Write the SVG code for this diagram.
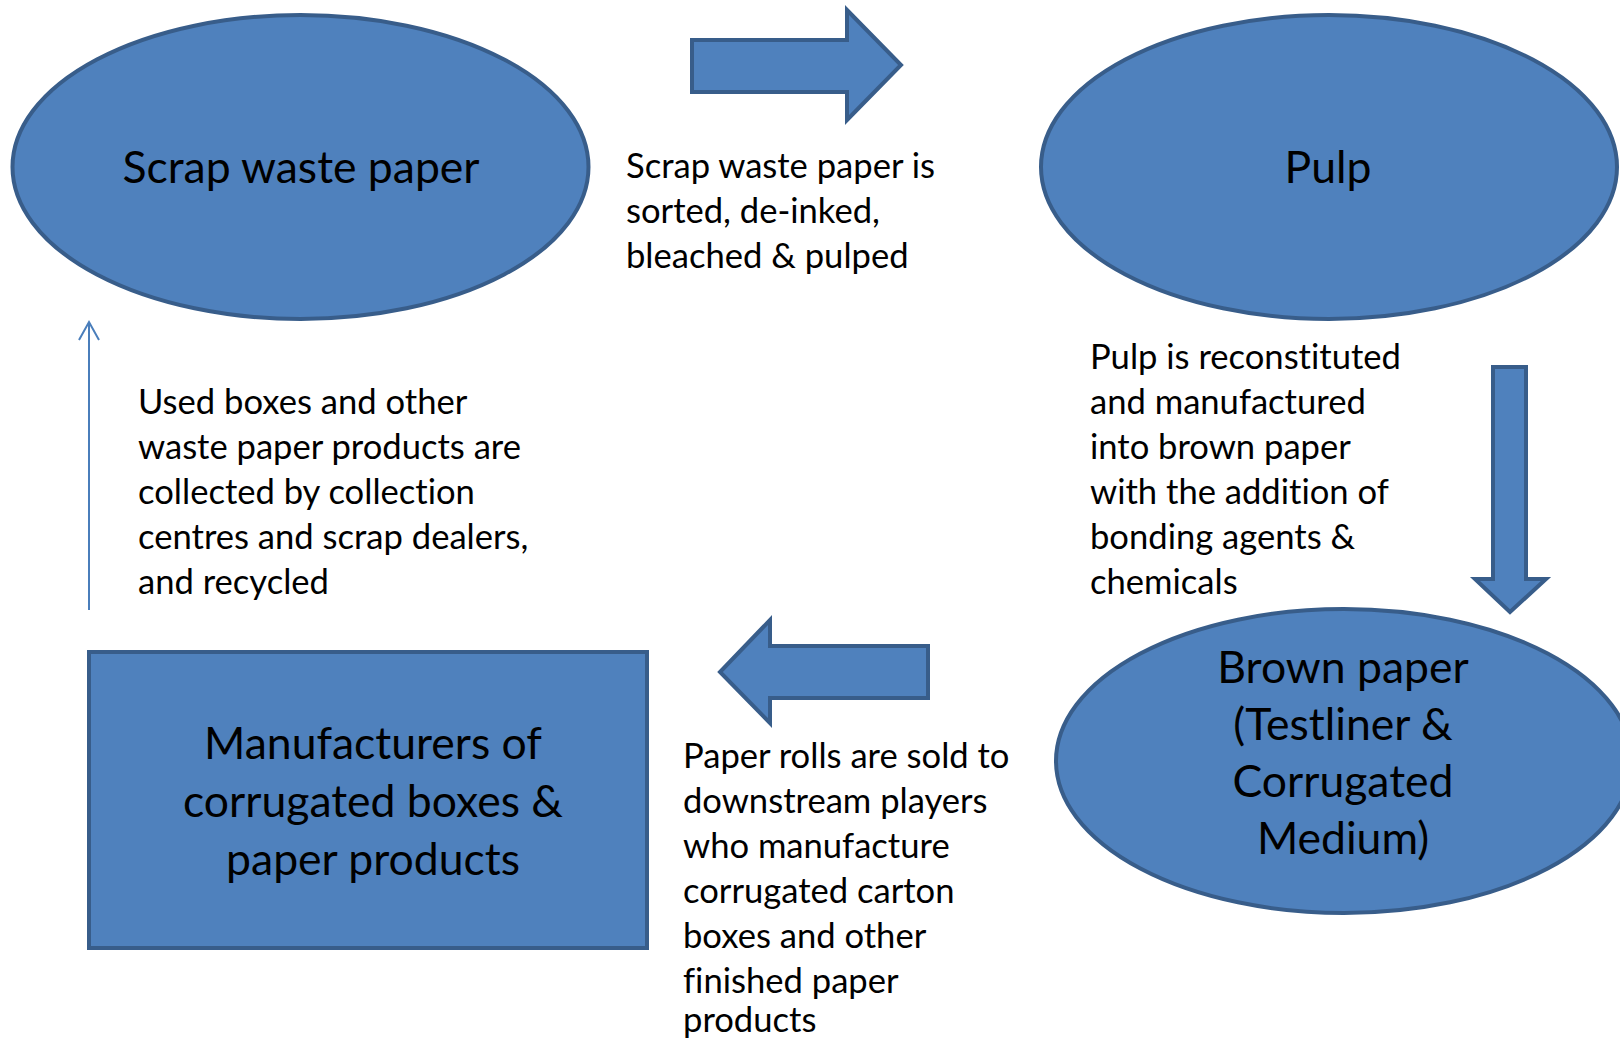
<svg xmlns="http://www.w3.org/2000/svg" width="1620" height="1041" viewBox="0 0 1620 1041">
<style>
.shape{fill:#4F81BD;stroke:#385D8A;stroke-width:4;stroke-linejoin:miter}
.big{font-family:Lato,"Liberation Sans",sans-serif;font-size:44.5px;fill:#000;text-anchor:middle;font-variant-ligatures:none}
.small{font-family:Lato,"Liberation Sans",sans-serif;font-size:34.6px;fill:#000;font-variant-ligatures:none}
.thin{fill:none;stroke:#4A7EBB;stroke-width:2}
</style>
<rect width="1620" height="1041" fill="#fff"/>
<g id="connectors">
<path class="shape" d="M692,40 H847 V10 L901,65 L847,120 V92 H692 Z"/>
<path class="shape" d="M1493,367 H1526 V579 H1546 L1510,612 L1475,579 H1493 Z"/>
<path class="shape" d="M928,646 V698 H770 V723 L720,672 L770,620 V646 Z"/>
<path class="thin" d="M89,610 V322 M79,340 L89,322 L99,340"/>
</g>
<g id="node-scrap">
<ellipse class="shape" cx="300.5" cy="167" rx="288" ry="152"/>
<text class="big" x="301" y="183">Scrap waste paper</text>
</g>
<g id="node-pulp">
<ellipse class="shape" cx="1329" cy="167" rx="288" ry="152"/>
<text class="big" x="1328" y="183">Pulp</text>
</g>
<g id="node-brown">
<ellipse class="shape" cx="1344" cy="761" rx="288" ry="152"/>
<text class="big" x="1343" y="683">Brown paper</text>
<text class="big" x="1343" y="740">(Testliner &amp;</text>
<text class="big" x="1343" y="797">Corrugated</text>
<text class="big" x="1343" y="854">Medium)</text>
</g>
<g id="node-manufacturers">
<rect class="shape" x="89" y="652" width="558" height="296"/>
<text class="big" x="373" y="759">Manufacturers of</text>
<text class="big" x="373" y="817">corrugated boxes &amp;</text>
<text class="big" x="373" y="875">paper products</text>
</g>
<g id="label-sorted">
<text class="small" x="626" y="178">Scrap waste paper is</text>
<text class="small" x="626" y="223">sorted, de-inked,</text>
<text class="small" x="626" y="268">bleached &amp; pulped</text>
</g>
<g id="label-reconstituted">
<text class="small" x="1090" y="369">Pulp is reconstituted</text>
<text class="small" x="1090" y="414">and manufactured</text>
<text class="small" x="1090" y="459">into brown paper</text>
<text class="small" x="1090" y="504">with the addition of</text>
<text class="small" x="1090" y="549">bonding agents &amp;</text>
<text class="small" x="1090" y="594">chemicals</text>
</g>
<g id="label-used">
<text class="small" x="138" y="414">Used boxes and other</text>
<text class="small" x="138" y="459">waste paper products are</text>
<text class="small" x="138" y="504">collected by collection</text>
<text class="small" x="138" y="549">centres and scrap dealers,</text>
<text class="small" x="138" y="594">and recycled</text>
</g>
<g id="label-rolls">
<text class="small" x="683" y="768">Paper rolls are sold to</text>
<text class="small" x="683" y="813">downstream players</text>
<text class="small" x="683" y="858">who manufacture</text>
<text class="small" x="683" y="903">corrugated carton</text>
<text class="small" x="683" y="948">boxes and other</text>
<text class="small" x="683" y="993">finished paper</text>
<text class="small" x="683" y="1032">products</text>
</g>
</svg>
